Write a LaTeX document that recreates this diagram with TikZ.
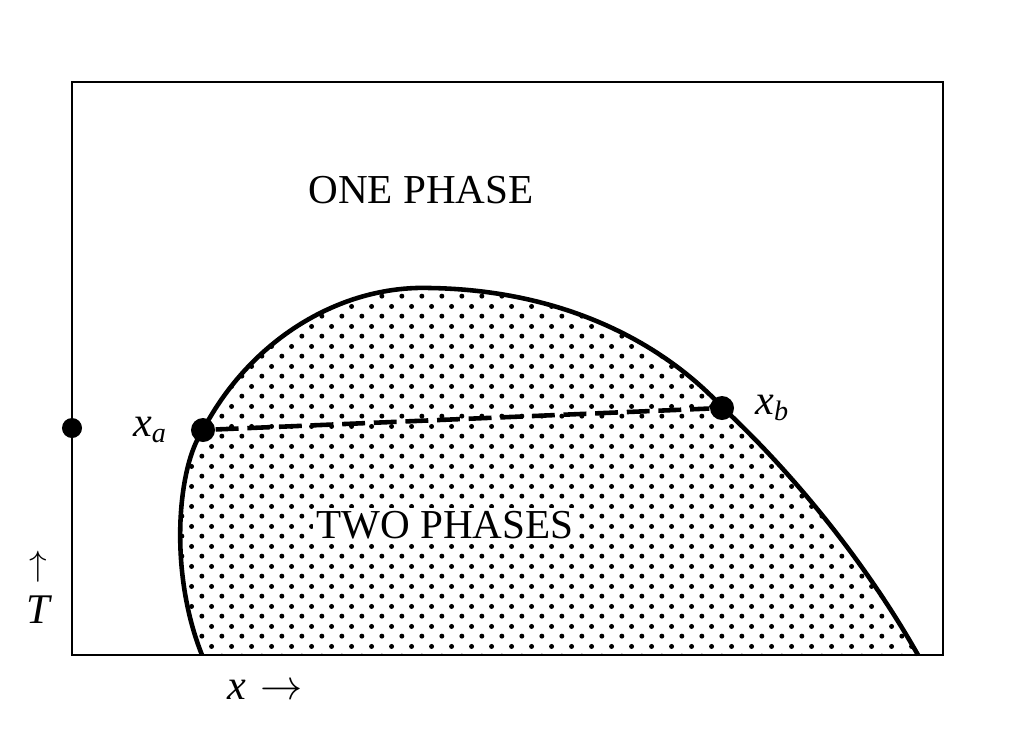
\documentclass[tikz,border=0pt]{standalone}
\usepackage{fontspec}
\setmainfont{Liberation Serif}
\usetikzlibrary{positioning, patterns.meta}

\tikzdeclarepattern{
  name=phasedots,
  type=uncolored,
  bounding box={(0pt,0pt) and (5.6pt,5.6pt)},
  tile size={(5.6pt,5.6pt)},
  code={
    \pgfpathcircle{\pgfqpoint{1.4pt}{1.4pt}}{0.72pt}
    \pgfpathcircle{\pgfqpoint{4.2pt}{4.2pt}}{0.72pt}
    \pgfusepath{fill}
  }
}

\begin{document}
\begin{tikzpicture}[x=0.01cm, y=-0.01cm,
  frame/.style={draw, line width=0.8pt},
  coexist/.style={line width=1.3pt},
  phasedot/.style={circle, fill, inner sep=0pt, minimum size=0.24cm},
  tieline/.style={line width=1.3pt, dash pattern=on 6.5pt off 2.5pt},
  phaselabel/.style={font=\fontsize{11.7}{14}\selectfont, inner sep=1pt},
  axislabel/.style={font=\fontsize{12}{14}\selectfont\itshape, inner sep=0pt}
]
  \useasboundingbox (0,0) rectangle (1022,739);

  % two-phase region under the coexistence curve
  \fill[pattern=phasedots] (202,655) .. controls (168,570) and (178,465) .. (203,430)
    .. controls (250,340) and (340,285) .. (430,288)
    .. controls (560,290) and (660,340) .. (723,408)
    .. controls (800,480) and (870,570) .. (918,655) -- cycle;

  \draw[frame] (72,82) rectangle (943,655);

  \draw[coexist] (202,655) .. controls (168,570) and (178,465) .. (203,430)
    .. controls (250,340) and (340,285) .. (430,288)
    .. controls (560,290) and (660,340) .. (723,408)
    .. controls (800,480) and (870,570) .. (918,655);

  \node[phaselabel] (one) at (421,190) {ONE PHASE};
  \node[phaselabel, fill=white] (two) at (445,525) {TWO PHASES};

  \node[phasedot] (xa) at (203,430) {};
  \node[phasedot] (xb) at (722,408) {};
  \node[phasedot, minimum size=0.2cm] (tdot) at (72,428) {};
  \draw[tieline] (xa) -- (xb);

  \node[axislabel, left=0.22cm of xa] (xalab) {x\textsubscript{a}};
  \node[axislabel, right=0.2cm of xb] (xblab) {x\textsubscript{b}};

  \node[axislabel] (tlab) at (38,610) {T};
  \node[inner sep=0pt, above=0.12cm of tlab] (tarrow) {$\uparrow$};
  \node[axislabel] (xlab) at (265,690) {x\,\,\upshape$\rightarrow$};
\end{tikzpicture}
\end{document}
